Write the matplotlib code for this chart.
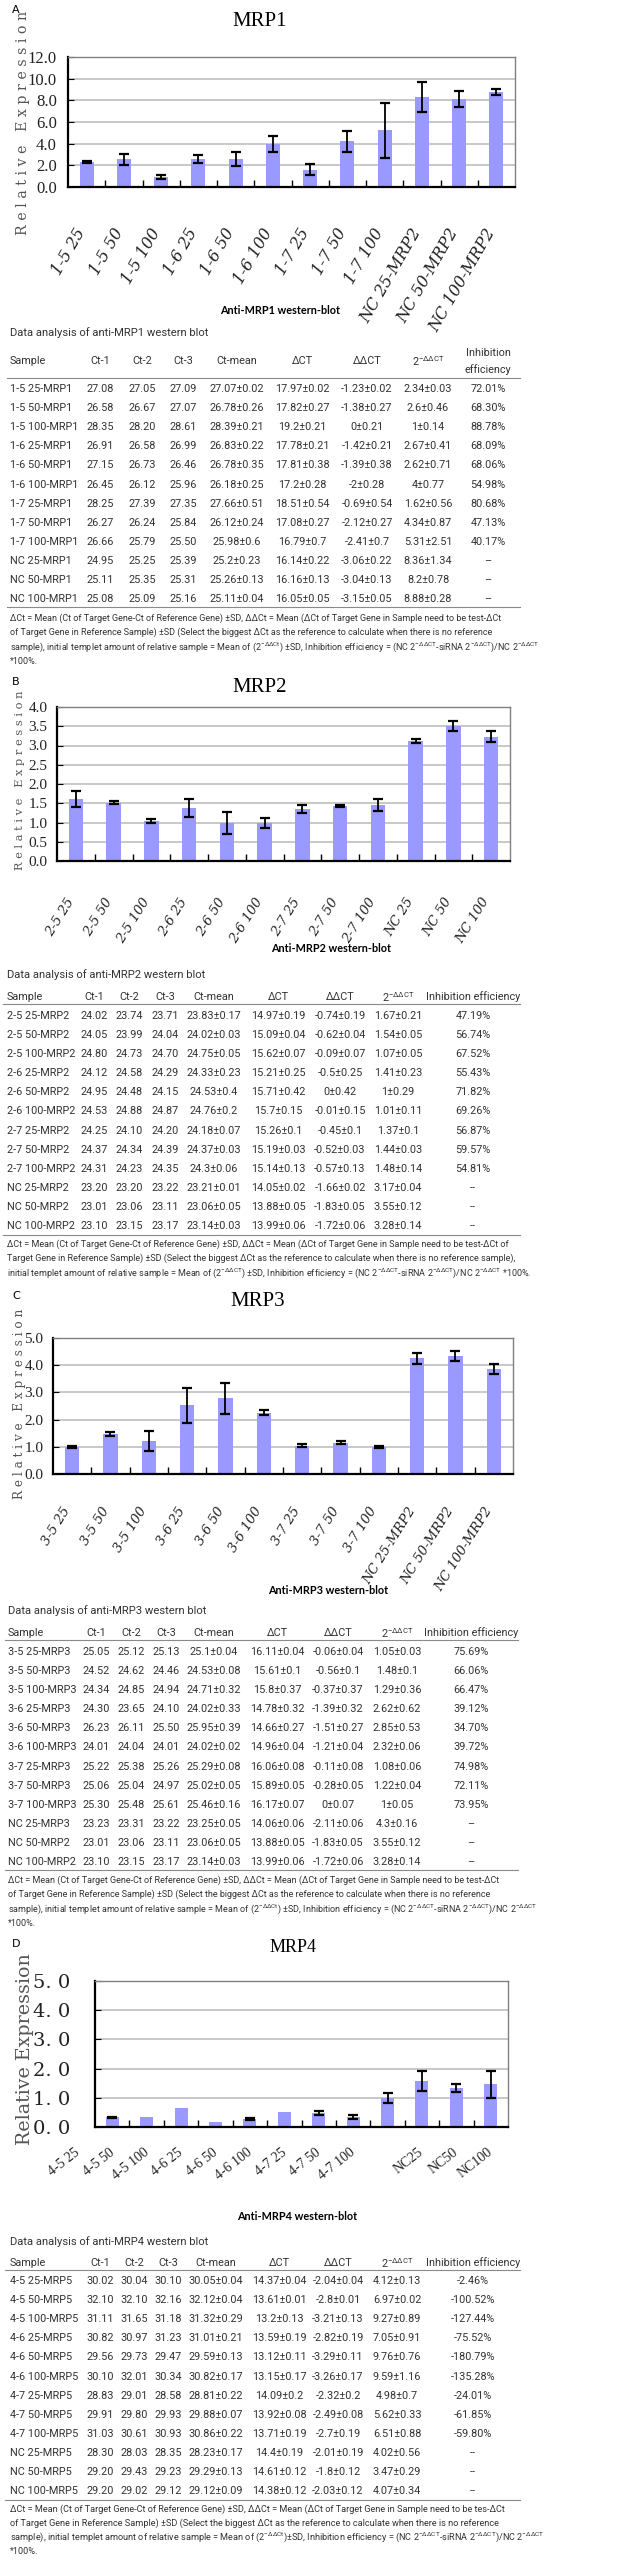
import numpy as np
import matplotlib
matplotlib.use("Agg")
import matplotlib.pyplot as plt
from matplotlib import font_manager
from matplotlib.lines import Line2D
from matplotlib.transforms import ScaledTranslation

# ---------------- data: bar charts ----------------
a_labels = ["1-5 25", "1-5 50", "1-5 100", "1-6 25", "1-6 50", "1-6 100",
            "1-7 25", "1-7 50", "1-7 100", "NC 25-MRP2", "NC 50-MRP2", "NC 100-MRP2"]
a_vals = [2.3, 2.57, 0.92, 2.57, 2.57, 3.94, 1.6, 4.22, 5.23, 8.32, 8.1, 8.75]
a_errs = [0.06, 0.5, 0.15, 0.4, 0.65, 0.75, 0.5, 0.95, 2.55, 1.4, 0.75, 0.3]

b_labels = ["2-5 25", "2-5 50", "2-5 100", "2-6 25", "2-6 50", "2-6 100",
            "2-7 25", "2-7 50", "2-7 100", "NC 25", "NC 50", "NC 100"]
b_vals = [1.61, 1.51, 1.04, 1.38, 0.98, 0.98, 1.35, 1.43, 1.46, 3.12, 3.51, 3.23]
b_errs = [0.22, 0.04, 0.06, 0.24, 0.28, 0.13, 0.11, 0.03, 0.16, 0.05, 0.13, 0.15]

c_labels = ["3-5 25", "3-5 50", "3-5 100", "3-6 25", "3-6 50", "3-6 100",
            "3-7 25", "3-7 50", "3-7 100", "NC 25-MRP2", "NC 50-MRP2", "NC 100-MRP2"]
c_vals = [1.0, 1.47, 1.21, 2.52, 2.78, 2.25, 1.04, 1.15, 0.99, 4.26, 4.33, 3.85]
c_errs = [0.03, 0.08, 0.37, 0.63, 0.56, 0.09, 0.06, 0.05, 0.04, 0.2, 0.18, 0.18]

d_labels = ["4-5 25", "4-5 50", "4-5 100", "4-6 25", "4-6 50", "4-6 100",
            "4-7 25", "4-7 50", "4-7 100", "NC25", "NC50", "NC100"]
d_vals = [0.33, 0.33, 0.65, 0.18, 0.28, 0.53, 0.49, 0.35, 0.98, 1.58, 1.34, 1.46]
d_errs = [0.02, 0, 0, 0, 0.03, 0, 0.07, 0.07, 0.17, 0.33, 0.14, 0.45]

# ---------------- data: tables ----------------
a_sample = ["1-5 25-MRP1", "1-5 50-MRP1", "1-5 100-MRP1", "1-6 25-MRP1", "1-6 50-MRP1", "1-6 100-MRP1",
            "1-7 25-MRP1", "1-7 50-MRP1", "1-7 100-MRP1", "NC 25-MRP1", "NC 50-MRP1", "NC 100-MRP1"]
a_ct1 = [27.08, 26.58, 28.35, 26.91, 27.15, 26.45, 28.25, 26.27, 26.66, 24.95, 25.11, 25.08]
a_ct2 = [27.05, 26.67, 28.20, 26.58, 26.73, 26.12, 27.39, 26.24, 25.79, 25.25, 25.35, 25.09]
a_ct3 = [27.09, 27.07, 28.61, 26.99, 26.46, 25.96, 27.35, 25.84, 25.50, 25.39, 25.31, 25.16]
a_ctm = ["27.07±0.02", "26.78±0.26", "28.39±0.21", "26.83±0.22", "26.78±0.35", "26.18±0.25",
         "27.66±0.51", "26.12±0.24", "25.98±0.6", "25.2±0.23", "25.26±0.13", "25.11±0.04"]
a_dct = ["17.97±0.02", "17.82±0.27", "19.2±0.21", "17.78±0.21", "17.81±0.38", "17.2±0.28",
         "18.51±0.54", "17.08±0.27", "16.79±0.7", "16.14±0.22", "16.16±0.13", "16.05±0.05"]
a_ddct = ["-1.23±0.02", "-1.38±0.27", "0±0.21", "-1.42±0.21", "-1.39±0.38", "-2±0.28",
          "-0.69±0.54", "-2.12±0.27", "-2.41±0.7", "-3.06±0.22", "-3.04±0.13", "-3.15±0.05"]
a_rel = ["2.34±0.03", "2.6±0.46", "1±0.14", "2.67±0.41", "2.62±0.71", "4±0.77",
         "1.62±0.56", "4.34±0.87", "5.31±2.51", "8.36±1.34", "8.2±0.78", "8.88±0.28"]
a_inh = ["72.01%", "68.30%", "88.78%", "68.09%", "68.06%", "54.98%",
         "80.68%", "47.13%", "40.17%", "–", "–", "–"]

b_sample = ["2-5 25-MRP2", "2-5 50-MRP2", "2-5 100-MRP2", "2-6 25-MRP2", "2-6 50-MRP2", "2-6 100-MRP2",
            "2-7 25-MRP2", "2-7 50-MRP2", "2-7 100-MRP2", "NC 25-MRP2", "NC 50-MRP2", "NC 100-MRP2"]
b_ct1 = [24.02, 24.05, 24.80, 24.12, 24.95, 24.53, 24.25, 24.37, 24.31, 23.20, 23.01, 23.10]
b_ct2 = [23.74, 23.99, 24.73, 24.58, 24.48, 24.88, 24.10, 24.34, 24.23, 23.20, 23.06, 23.15]
b_ct3 = [23.71, 24.04, 24.70, 24.29, 24.15, 24.87, 24.20, 24.39, 24.35, 23.22, 23.11, 23.17]
b_ctm = ["23.83±0.17", "24.02±0.03", "24.75±0.05", "24.33±0.23", "24.53±0.4", "24.76±0.2",
         "24.18±0.07", "24.37±0.03", "24.3±0.06", "23.21±0.01", "23.06±0.05", "23.14±0.03"]
b_dct = ["14.97±0.19", "15.09±0.04", "15.62±0.07", "15.21±0.25", "15.71±0.42", "15.7±0.15",
         "15.26±0.1", "15.19±0.03", "15.14±0.13", "14.05±0.02", "13.88±0.05", "13.99±0.06"]
b_ddct = ["-0.74±0.19", "-0.62±0.04", "-0.09±0.07", "-0.5±0.25", "0±0.42", "-0.01±0.15",
          "-0.45±0.1", "-0.52±0.03", "-0.57±0.13", "-1.66±0.02", "-1.83±0.05", "-1.72±0.06"]
b_rel = ["1.67±0.21", "1.54±0.05", "1.07±0.05", "1.41±0.23", "1±0.29", "1.01±0.11",
         "1.37±0.1", "1.44±0.03", "1.48±0.14", "3.17±0.04", "3.55±0.12", "3.28±0.14"]
b_inh = ["47.19%", "56.74%", "67.52%", "55.43%", "71.82%", "69.26%",
         "56.87%", "59.57%", "54.81%", "--", "--", "--"]

c_sample = ["3-5 25-MRP3", "3-5 50-MRP3", "3-5 100-MRP3", "3-6 25-MRP3", "3-6 50-MRP3", "3-6 100-MRP3",
            "3-7 25-MRP3", "3-7 50-MRP3", "3-7 100-MRP3", "NC 25-MRP3", "NC 50-MRP2", "NC 100-MRP2"]
c_ct1 = [25.05, 24.52, 24.34, 24.30, 26.23, 24.01, 25.22, 25.06, 25.30, 23.23, 23.01, 23.10]
c_ct2 = [25.12, 24.62, 24.85, 23.65, 26.11, 24.04, 25.38, 25.04, 25.48, 23.31, 23.06, 23.15]
c_ct3 = [25.13, 24.46, 24.94, 24.10, 25.50, 24.01, 25.26, 24.97, 25.61, 23.22, 23.11, 23.17]
c_ctm = ["25.1±0.04", "24.53±0.08", "24.71±0.32", "24.02±0.33", "25.95±0.39", "24.02±0.02",
         "25.29±0.08", "25.02±0.05", "25.46±0.16", "23.25±0.05", "23.06±0.05", "23.14±0.03"]
c_dct = ["16.11±0.04", "15.61±0.1", "15.8±0.37", "14.78±0.32", "14.66±0.27", "14.96±0.04",
         "16.06±0.08", "15.89±0.05", "16.17±0.07", "14.06±0.06", "13.88±0.05", "13.99±0.06"]
c_ddct = ["-0.06±0.04", "-0.56±0.1", "-0.37±0.37", "-1.39±0.32", "-1.51±0.27", "-1.21±0.04",
          "-0.11±0.08", "-0.28±0.05", "0±0.07", "-2.11±0.06", "-1.83±0.05", "-1.72±0.06"]
c_rel = ["1.05±0.03", "1.48±0.1", "1.29±0.36", "2.62±0.62", "2.85±0.53", "2.32±0.06",
         "1.08±0.06", "1.22±0.04", "1±0.05", "4.3±0.16", "3.55±0.12", "3.28±0.14"]
c_inh = ["75.69%", "66.06%", "66.47%", "39.12%", "34.70%", "39.72%",
         "74.98%", "72.11%", "73.95%", "–", "–", "–"]

d_sample = ["4-5 25-MRP5", "4-5 50-MRP5", "4-5 100-MRP5", "4-6 25-MRP5", "4-6 50-MRP5", "4-6 100-MRP5",
            "4-7 25-MRP5", "4-7 50-MRP5", "4-7 100-MRP5", "NC 25-MRP5", "NC 50-MRP5", "NC 100-MRP5"]
d_ct1 = [30.02, 32.10, 31.11, 30.82, 29.56, 30.10, 28.83, 29.91, 31.03, 28.30, 29.20, 29.20]
d_ct2 = [30.04, 32.10, 31.65, 30.97, 29.73, 32.01, 29.01, 29.80, 30.61, 28.03, 29.43, 29.02]
d_ct3 = [30.10, 32.16, 31.18, 31.23, 29.47, 30.34, 28.58, 29.93, 30.93, 28.35, 29.23, 29.12]
d_ctm = ["30.05±0.04", "32.12±0.04", "31.32±0.29", "31.01±0.21", "29.59±0.13", "30.82±0.17",
         "28.81±0.22", "29.88±0.07", "30.86±0.22", "28.23±0.17", "29.29±0.13", "29.12±0.09"]
d_dct = ["14.37±0.04", "13.61±0.01", "13.2±0.13", "13.59±0.19", "13.12±0.11", "13.15±0.17",
         "14.09±0.2", "13.92±0.08", "13.71±0.19", "14.4±0.19", "14.61±0.12", "14.38±0.12"]
d_ddct = ["-2.04±0.04", "-2.8±0.01", "-3.21±0.13", "-2.82±0.19", "-3.29±0.11", "-3.26±0.17",
          "-2.32±0.2", "-2.49±0.08", "-2.7±0.19", "-2.01±0.19", "-1.8±0.12", "-2.03±0.12"]
d_rel = ["4.12±0.13", "6.97±0.02", "9.27±0.89", "7.05±0.91", "9.76±0.76", "9.59±1.16",
         "4.98±0.7", "5.62±0.33", "6.51±0.88", "4.02±0.56", "3.47±0.29", "4.07±0.34"]
d_inh = ["-2.46%", "-100.52%", "-127.44%", "-75.52%", "-180.79%", "-135.28%",
         "-24.01%", "-61.85%", "-59.80%", "--", "--", "--"]

SUP = r"$^{\mathrm{-\Delta\Delta CT}}$"
SUPt = r"$^{\mathrm{-\Delta\Delta Ct}}$"
foot_a = ["ΔCt = Mean (Ct of Target Gene-Ct of Reference Gene) ±SD, ΔΔCt = Mean (ΔCt of Target Gene in Sample need to be test-ΔCt",
          "of Target Gene in Reference Sample) ±SD (Select the biggest ΔCt as the reference to calculate when there is no reference",
          "sample), initial templet amount of relative sample = Mean of (2" + SUPt + ") ±SD, Inhibition efficiency = (NC 2" + SUP
          + "-siRNA 2" + SUP + ")/NC 2" + SUP,
          "*100%."]
foot_b = ["ΔCt = Mean (Ct of Target Gene-Ct of Reference Gene) ±SD, ΔΔCt = Mean (ΔCt of Target Gene in Sample need to be test-ΔCt of",
          "Target Gene in Reference Sample) ±SD (Select the biggest ΔCt as the reference to calculate when there is no reference sample),",
          "initial templet amount of relative sample = Mean of (2" + SUP + ") ±SD, Inhibition efficiency = (NC 2" + SUP
          + "-siRNA 2" + SUP + ")/NC 2" + SUP + " *100%."]
foot_d = ["ΔCt = Mean (Ct of Target Gene-Ct of Reference Gene) ±SD, ΔΔCt = Mean (ΔCt of Target Gene in Sample need to be tes-ΔCt",
          foot_a[1],
          "sample), initial templet amount of relative sample = Mean of (2" + SUPt + ")±SD, Inhibition efficiency = (NC 2" + SUP
          + "-siRNA 2" + SUP + ")/NC 2" + SUP,
          "*100%."]


def have(name):
    try:
        font_manager.findfont(font_manager.FontProperties(family=name), fallback_to_default=False)
        return True
    except Exception:
        return False


# ---------------- figure helpers ----------------
W, H, DPI = 640, 2561, 100
TFONT = 'Liberation Sans Narrow' if have('Liberation Sans Narrow') else 'Roboto'
plt.rcParams['mathtext.fontset'] = 'custom'
plt.rcParams['mathtext.rm'] = TFONT
plt.rcParams['mathtext.it'] = TFONT + ':italic'
plt.rcParams['mathtext.bf'] = TFONT + ':bold'

fig = plt.figure(figsize=(W / DPI, H / DPI), dpi=DPI, facecolor='white')
REN = fig.canvas.get_renderer()
BAR = '#9999ff'
TXT = '#333333'


def fx(x):
    return x / W


def fy(y):
    return 1 - y / H


def put(x, y, s, **kw):
    kw.setdefault('va', 'center')
    return fig.text(fx(x), fy(y), s, **kw)


def fit(t, size, vertical=False):
    # scale font so the text spans `size` pixels
    for _ in range(3):
        bb = t.get_window_extent(REN)
        cur = bb.height if vertical else bb.width
        t.set_fontsize(t.get_fontsize() * size / cur)
    return t.get_fontsize()


def hline(x0, x1, y, lw=0.8, color='#8a8a8a'):
    fig.add_artist(Line2D([fx(x0), fx(x1)], [fy(y), fy(y)], transform=fig.transFigure, color=color, lw=lw))


def bars(rect, vals, errs, labels, ymax, ystep, yfmt, ysize, yfam, ypad,
         lrot, lsize, lstyle, lfam, lshift):
    l, t, r, b = rect
    ax = fig.add_axes([fx(l), fy(b), (r - l) / W, (b - t) / H])
    x = np.arange(len(vals))
    e = np.asarray(errs, float)
    ax.bar(x, vals, width=0.38, color=BAR, zorder=2)
    ax.errorbar(x, vals, yerr=np.where(e > 0, e, np.nan), fmt='none', ecolor='black',
                elinewidth=1.3, capsize=3.5, capthick=1.6, zorder=3)
    ax.set_xlim(-0.5, len(vals) - 0.5)
    ax.set_ylim(0, ymax)
    yt = np.arange(0, ymax + ystep / 2, ystep)
    ax.set_yticks(yt)
    ax.set_yticklabels([yfmt(v) for v in yt], fontsize=ysize, family=yfam, color='#222222')
    ax.grid(axis='y', color='#c8c8c8', lw=1.4, zorder=0)
    ax.set_xticks(x)
    ax.set_xticklabels(labels, rotation=lrot, ha='right', va='top', rotation_mode='anchor',
                       fontsize=lsize, style=lstyle, family=lfam, color='#222222')
    ax.set_xticks(x[1:] - 0.5, minor=True)
    ax.tick_params(axis='x', which='major', length=0, pad=12)
    ax.tick_params(axis='x', which='minor', direction='in', length=5, width=1)
    ax.tick_params(axis='y', direction='in', length=4, pad=ypad)
    for s in ('left', 'bottom'):
        ax.spines[s].set_color('black')
        ax.spines[s].set_linewidth(1.6)
    for s in ('top', 'right'):
        ax.spines[s].set_color('#808080')
        ax.spines[s].set_linewidth(1.0)
    for lb, (dx, dy) in zip(ax.get_xticklabels(), lshift):
        lb.set_transform(lb.get_transform() + ScaledTranslation(dx / DPI, -dy / DPI, fig.dpi_scale_trans))
    return ax


def table(lay, sample, ct1, ct2, ct3, ctm, dct, ddct, rel, inh, foot, fsize):
    sx, cols = lay['sx'], lay['cols']
    t = put(sx, lay['ty'], lay['title'], fontsize=8, family=TFONT, color=TXT)
    fit(t, 199)
    heads = ['Ct-1', 'Ct-2', 'Ct-3', 'Ct-mean', 'ΔCT', 'ΔΔCT', '2' + SUP]
    put(sx, lay['hy'], 'Sample', fontsize=fsize, family=TFONT, color=TXT)
    for cx, h in zip(cols, heads):
        put(cx, lay['hy'], h, fontsize=fsize, family=TFONT, color=TXT, ha='center')
    if lay['two']:
        put(cols[7], lay['hy'] - 8.5, 'Inhibition', fontsize=fsize, family=TFONT, color=TXT, ha='center')
        put(cols[7], lay['hy'] + 8.5, 'efficiency', fontsize=fsize, family=TFONT, color=TXT, ha='center')
    else:
        put(cols[7], lay['hy'], 'Inhibition efficiency', fontsize=fsize, family=TFONT, color=TXT, ha='center')
    hline(lay['lx'][0], lay['lx'][1], lay['l1'])
    for i in range(len(sample)):
        y = lay['y0'] + i * 19.1
        cells = ['%.2f' % ct1[i], '%.2f' % ct2[i], '%.2f' % ct3[i], ctm[i], dct[i], ddct[i], rel[i], inh[i]]
        put(sx, y, sample[i], fontsize=fsize, family=TFONT, color=TXT)
        for cx, c in zip(cols, cells):
            put(cx, y, c, fontsize=fsize, family=TFONT, color=TXT, ha='center')
    hline(lay['lx'][0], lay['lx'][1], lay['l2'])
    f0 = put(sx, lay['fy'][0], foot[1], fontsize=6.5, family=TFONT, color=TXT)
    fs = fit(f0, lay['fw'])
    f0.remove()
    for yy, s in zip(lay['fy'], foot):
        put(sx, yy, s, fontsize=fs, family=TFONT, color=TXT)


# table font size from a measured cell
probe = put(0, 0, "27.07±0.02", fontsize=7, family=TFONT)
TSIZE = fit(probe, 55)
probe.remove()

sp = lambda s: ' '.join(s)
SPACED = sp('Relative') + '   ' + sp('Expression')
fmt1 = lambda v: '%.1f' % v
fmtd = lambda v: ('%.1f' % v).replace('.', '. ')
XFAM = 'DejaVu Serif'
SHIFT_A = [(-12, 22)] * 12
SHIFT_B = [(-10, 18)] * 12
SHIFT_C = [(-10, 14)] * 12
SHIFT_D = [(-38, 2)] * 9 + [(-4, 2)] * 3

# ---------------- panel A ----------------
put(12, 10, 'A', fontsize=8, family='DejaVu Sans')
put(260, 22, 'MRP1', fontsize=15, family='Liberation Serif', ha='center')
bars((68, 57, 515, 187), a_vals, a_errs, a_labels, 12, 2, fmt1, 12, 'Liberation Serif', 8,
     60, 11.5, 'italic', XFAM, SHIFT_A)
fit(put(23, 123, SPACED, rotation=90, ha='center', family='DejaVu Serif', fontsize=9, color='#555555'), 227, True)
put(280, 310, 'Anti-MRP1 western-blot', fontsize=7.8, family='Lato', weight='bold', ha='center')
table(dict(sx=10, cols=[100, 142, 183, 237, 302, 367, 428, 488], ty=333, title='Data analysis of anti-MRP1 western blot',
           hy=361, two=True, l1=378, y0=389, l2=607, lx=(7, 520), fy=[618, 632.5, 647, 661.5], fw=484),
      a_sample, a_ct1, a_ct2, a_ct3, a_ctm, a_dct, a_ddct, a_rel, a_inh, foot_a, TSIZE)

# ---------------- panel B ----------------
put(12, 682, 'B', fontsize=8, family='DejaVu Sans')
put(260, 688, 'MRP2', fontsize=15, family='Liberation Serif', ha='center')
bars((57, 707, 510, 861), b_vals, b_errs, b_labels, 4, 0.5, fmt1, 11, 'Liberation Serif', 7,
     58, 9.5, 'italic', XFAM, SHIFT_B)
fit(put(20, 780, SPACED, rotation=90, ha='center', family='DejaVu Serif', fontsize=8, color='#555555'), 180, True)
put(331, 949, 'Anti-MRP2 western-blot', fontsize=7.8, family='Lato', weight='bold', ha='center')
table(dict(sx=7, cols=[94, 129, 165, 214, 278, 340, 398, 473], ty=975, title='Data analysis of anti-MRP2 western blot',
           hy=997, two=False, l1=1004, y0=1016, l2=1235, lx=(3, 520), fy=[1244, 1258.5, 1273], fw=509),
      b_sample, b_ct1, b_ct2, b_ct3, b_ctm, b_dct, b_ddct, b_rel, b_inh, foot_b, TSIZE)

# ---------------- panel C ----------------
put(12, 1296, 'C', fontsize=8, family='DejaVu Sans')
put(258, 1302, 'MRP3', fontsize=15, family='Liberation Serif', ha='center')
bars((53, 1338, 513, 1474), c_vals, c_errs, c_labels, 5, 1, fmt1, 11, 'Liberation Serif', 7,
     58, 9.5, 'italic', XFAM, SHIFT_C)
fit(put(20, 1404, SPACED, rotation=90, ha='center', family='DejaVu Serif', fontsize=8, color='#555555'), 188, True)
put(328, 1590, 'Anti-MRP3 western-blot', fontsize=7.8, family='Lato', weight='bold', ha='center')
table(dict(sx=8, cols=[96, 131, 166, 214, 277, 338, 397, 471], ty=1611, title='Data analysis of anti-MRP3 western blot',
           hy=1633, two=False, l1=1640, y0=1652, l2=1870, lx=(5, 518), fy=[1880, 1894.5, 1909, 1923], fw=484),
      c_sample, c_ct1, c_ct2, c_ct3, c_ctm, c_dct, c_ddct, c_rel, c_inh, foot_a, TSIZE)

# ---------------- panel D ----------------
put(12, 1944, 'D', fontsize=8, family='DejaVu Sans')
put(293, 1948, 'MRP4', fontsize=13, family='Liberation Serif', ha='center')
bars((95, 1981, 508, 2127), d_vals, d_errs, d_labels, 5, 1, fmtd, 14, 'DejaVu Serif', 18,
     38, 10, 'normal', 'Liberation Serif', SHIFT_D)
fit(put(25, 2049, 'Relative Expression', rotation=90, ha='center', family='DejaVu Serif', fontsize=13, color='#555555'), 192, True)
put(297, 2217, 'Anti-MRP4 western-blot', fontsize=7.8, family='Lato', weight='bold', ha='center')
table(dict(sx=10, cols=[100, 134, 168, 216, 279, 338, 397, 473], ty=2242, title='Data analysis of anti-MRP4 western blot',
           hy=2263, two=False, l1=2270, y0=2281, l2=2500, lx=(5, 520), fy=[2509, 2523, 2537, 2551], fw=486),
      d_sample, d_ct1, d_ct2, d_ct3, d_ctm, d_dct, d_ddct, d_rel, d_inh, foot_d, TSIZE)

fig.savefig('out.png', dpi=DPI, facecolor='white')
